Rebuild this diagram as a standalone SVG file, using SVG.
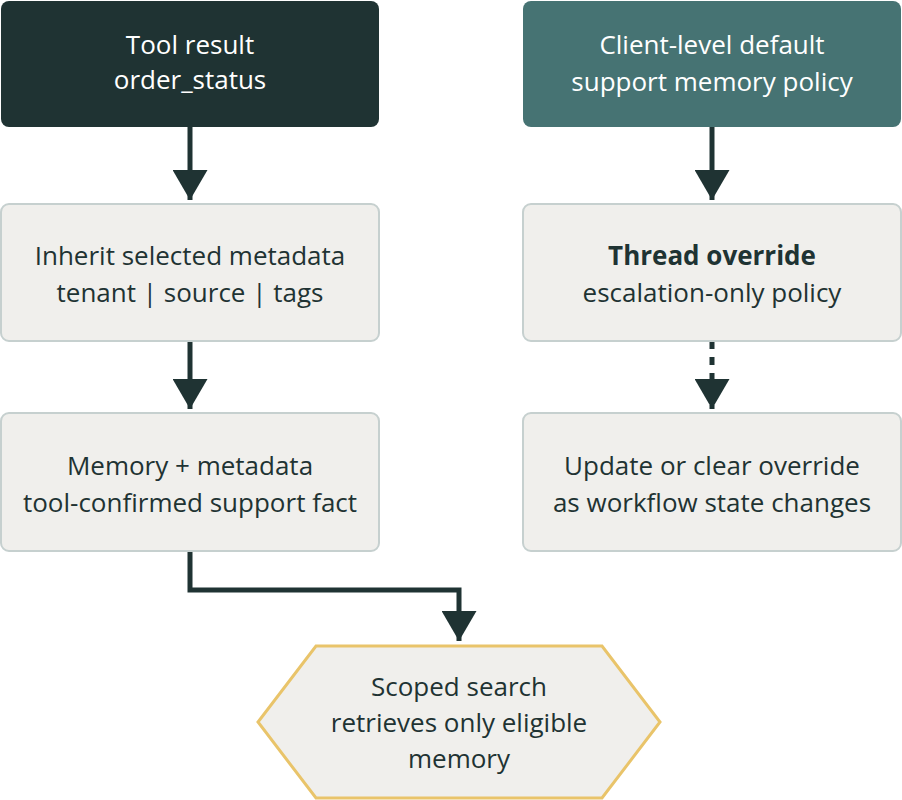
<svg xmlns="http://www.w3.org/2000/svg" width="902" height="800" viewBox="0 0 902 800">
<style>
text{font-family:"Open Sans","Noto Sans",sans-serif;font-size:26px;fill:#1f3333;text-anchor:middle}
.w{fill:#ffffff}
.box{fill:#f0efec;stroke:#c6d0cf;stroke-width:2}
.c{fill:none;stroke:#1f3333;stroke-width:5}
</style>
<defs>
<marker id="a" markerWidth="6" markerHeight="7" refX="6" refY="3.5" orient="auto" markerUnits="strokeWidth" viewBox="0 0 6 7"><path d="M0,0L6,3.5L0,7z" fill="#1f3333"/></marker>
</defs>
<g id="connectors">
<path class="c" d="M190,127V200" marker-end="url(#a)"/>
<path class="c" d="M190,341V409" marker-end="url(#a)"/>
<path class="c" d="M712,127V200" marker-end="url(#a)"/>
<path class="c" d="M712,341V409" stroke-dasharray="8,8" marker-end="url(#a)"/>
<path class="c" d="M190,551V590H459V641" marker-end="url(#a)"/>
</g>
<g id="n1"><rect x="1" y="1" width="378" height="126" rx="8" fill="#1f3333"/><text class="w" x="190" y="54">Tool result</text><text class="w" x="190" y="89">order_status</text></g>
<g id="n2"><rect x="523" y="1" width="378" height="126" rx="8" fill="#467373"/><text class="w" x="712" y="54">Client-level default</text><text class="w" x="712" y="91">support memory policy</text></g>
<g id="n3"><rect class="box" x="1" y="204" width="378" height="137" rx="8"/><text x="190" y="265">Inherit selected metadata</text><text x="190" y="302">tenant | source | tags</text></g>
<g id="n4"><rect class="box" x="523" y="204" width="378" height="137" rx="8"/><text x="712" y="265" font-weight="bold">Thread override</text><text x="712" y="302">escalation-only policy</text></g>
<g id="n5"><rect class="box" x="1" y="413" width="378" height="138" rx="8"/><text x="190" y="475">Memory + metadata</text><text x="190" y="512">tool-confirmed support fact</text></g>
<g id="n6"><rect class="box" x="523" y="413" width="378" height="138" rx="8"/><text x="712" y="475">Update or clear override</text><text x="712" y="512">as workflow state changes</text></g>
<g id="n7"><polygon points="316,646 602,646 660,722 602,798 316,798 258,722" fill="#f0efec" stroke="#e9c46a" stroke-width="3"/><text x="459" y="696">Scoped search</text><text x="459" y="732">retrieves only eligible</text><text x="459" y="768">memory</text></g>
</svg>
